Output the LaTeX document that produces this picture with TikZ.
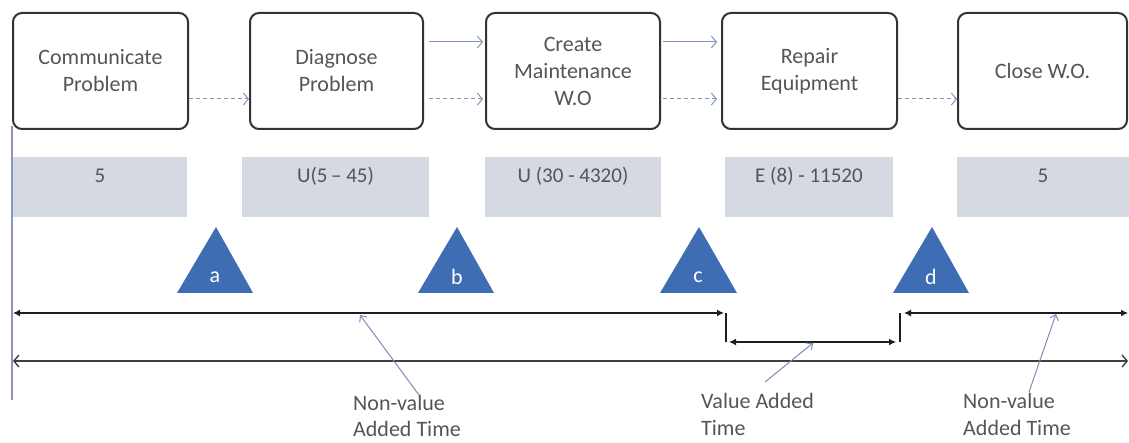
\documentclass[tikz,border=0pt]{standalone}
\usepackage{fontspec}
\setmainfont{Carlito}
\usetikzlibrary{arrows.meta,calc}
\definecolor{boxline}{HTML}{333333}
\definecolor{txt}{HTML}{555555}
\definecolor{greyfill}{HTML}{D5D9E2}
\definecolor{tricol}{HTML}{3F6DB3}
\definecolor{flow}{HTML}{7F95BA}
\definecolor{vline}{HTML}{8B93C6}
\definecolor{tl}{HTML}{1E1E1E}
\definecolor{callout}{HTML}{7C8DB8}
\begin{document}
\begin{tikzpicture}[x=1pt,y=-1pt,
  every node/.style={text=txt, inner sep=0pt},
  proc/.style={draw=boxline, line width=2pt, rounded corners=9pt,
    minimum height=116pt, align=center, font=\fontsize{22}{27}\selectfont},
  greybox/.style={fill=greyfill, text height=25.5pt, text depth=34.5pt,
    font=\fontsize{21}{25}\selectfont},
  flowarrow/.style={draw=flow, line width=1pt, -{Straight Barb[length=5pt,width=12pt]}},
  flowdash/.style={flowarrow, dash pattern=on 4pt off 3pt},
  tline/.style={draw=tl, line width=1.5pt},
  tarrow/.style={tline, {Latex[length=7pt,width=7pt]}-{Latex[length=7pt,width=7pt]}},
  longarrow/.style={draw=tl!85, line width=1.4pt, {Straight Barb[length=5pt,width=12pt]}-{Straight Barb[length=5pt,width=12pt]}},
  calloutarrow/.style={draw=callout, line width=1pt, -{Straight Barb[length=5pt,width=9pt]}},
  trilabel/.style={text=white, font=\fontsize{22}{27}\selectfont},
  note/.style={align=left, anchor=north west, font=\fontsize{22}{27}\selectfont}
]
\useasboundingbox (0,0) rectangle (1129,443);

% process boxes
\node[proc, minimum width=175pt] (b1) at (100.5,71) {Communicate\\Problem};
\node[proc, minimum width=173pt] (b2) at (336.5,71) {Diagnose\\Problem};
\node[proc, minimum width=174pt] (b3) at (573,71) {Create\\Maintenance\\W.O};
\node[proc, minimum width=175pt] (b4) at (809.5,71) {Repair\\Equipment};
\node[proc, minimum width=169pt] (b5) at (1042.5,71) {Close W.O.};

% flow arrows
\draw[flowdash] ($(b1.east)+(0,28)$) -- ($(b2.west)+(0,28)$);
\draw[flowarrow] ($(b2.east)+(5,-29)$) -- ($(b3.west)+(-2,-29)$);
\draw[flowdash] ($(b2.east)+(5,28)$) -- ($(b3.west)+(-2,28)$);
\draw[flowarrow] ($(b3.east)+(2,-29)$) -- ($(b4.west)+(-4,-29)$);
\draw[flowdash] ($(b3.east)+(2,28)$) -- ($(b4.west)+(-4,28)$);
\draw[flowdash] ($(b4.east)+(0,28)$) -- ($(b5.west)+(0,28)$);

% time boxes
\node[greybox, minimum width=174pt] (g1) at (100,187) {5};
\node[greybox, minimum width=187pt] (g2) at (335.5,187) {U(5{\,}– 45)};
\node[greybox, minimum width=176pt] (g3) at (573,187) {U (30 - 4320)};
\node[greybox, minimum width=168pt] (g4) at (809,187) {E (8) - 11520};
\node[greybox, minimum width=172pt] (g5) at (1043,187) {5};

% triangles
\fill[tricol] (177,293) -- (216,227) -- (253,293) -- cycle;
\fill[tricol] (418,293) -- (457,227) -- (494,293) -- cycle;
\fill[tricol] (660,293) -- (699,227) -- (737,293) -- cycle;
\fill[tricol] (893,293) -- (932,227) -- (969,293) -- cycle;
\node[trilabel] (la) at (215,277) {a};
\node[trilabel] (lb) at (457,277) {b};
\node[trilabel] (lc) at (698,277) {c};
\node[trilabel] (ld) at (931,277) {d};

% origin line
\coordinate (v0) at (12,126);
\coordinate (v1) at (12,400);
\draw[draw=vline, line width=1.6pt] (v0) -- (v1);

% timeline
\coordinate (t0) at (13,313);
\coordinate (t1) at (724,313);
\coordinate (t1b) at (726,313);
\coordinate (t2) at (726,342);
\coordinate (t2b) at (729,342);
\coordinate (t3) at (896,342);
\coordinate (t3b) at (900,342);
\coordinate (t4) at (900,313);
\coordinate (t4b) at (904,313);
\coordinate (t5) at (1128,313);
\draw[tarrow] (t0) -- (t1);
\draw[tline] (t1b) -- (t2);
\draw[tarrow] (t2b) -- (t3);
\draw[tline] (t3b) -- (t4);
\draw[tarrow] (t4b) -- (t5);

\coordinate (l0) at (13,361);
\coordinate (l1) at (1128,361);
\draw[longarrow] (l0) -- (l1);

% labels
\node[note, font=\fontsize{22}{26}\selectfont] (n1) at (353,395) {Non-value\\Added Time};
\node[note] (n2) at (701,393) {Value Added\\Time};
\node[note] (n3) at (963,393) {Non-value\\Added Time};

% callouts
\coordinate (c1s) at (419,395);
\coordinate (c1e) at (360,315);
\coordinate (c2s) at (765,382);
\coordinate (c2e) at (813,343);
\coordinate (c3s) at (1029,392);
\coordinate (c3e) at (1056,314);
\draw[calloutarrow] (c1s) -- (c1e);
\draw[calloutarrow] (c2s) -- (c2e);
\draw[calloutarrow] (c3s) -- (c3e);
\end{tikzpicture}
\end{document}
